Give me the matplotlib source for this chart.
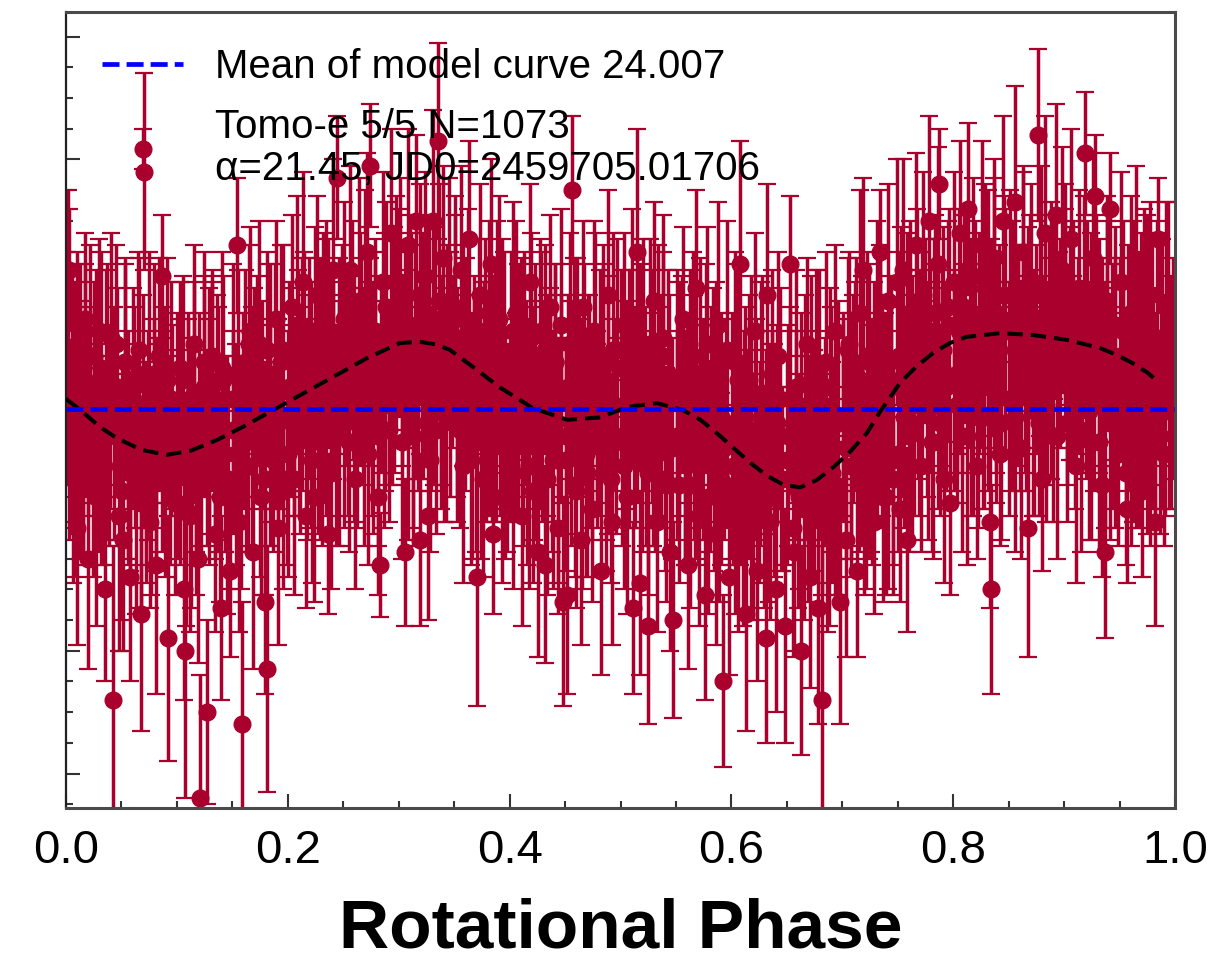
import numpy as np
import matplotlib.pyplot as plt
from matplotlib.ticker import MultipleLocator

plt.rcParams['font.family'] = ['Liberation Sans', 'DejaVu Sans']

# Phase-folded light curve (magnitudes).
# First block: the spread-out points and the visible outliers.
phase_1 = [
    0.002, 0.003, 0.006, 0.008, 0.010, 0.013, 0.015, 0.017, 0.020, 0.022, 0.025, 0.027, 0.030, 0.032, 0.035, 0.037, 0.040, 0.042, 0.045, 0.048,
    0.051, 0.053, 0.056, 0.058, 0.061, 0.063, 0.066, 0.068, 0.070, 0.072, 0.074, 0.076, 0.079, 0.081, 0.084, 0.087, 0.089, 0.092, 0.095, 0.098,
    0.101, 0.103, 0.106, 0.107, 0.110, 0.112, 0.115, 0.117, 0.119, 0.121, 0.124, 0.127, 0.129, 0.132, 0.134, 0.137, 0.140, 0.142, 0.145, 0.148,
    0.151, 0.154, 0.156, 0.159, 0.161, 0.164, 0.166, 0.169, 0.171, 0.174, 0.176, 0.179, 0.181, 0.184, 0.186, 0.189, 0.191, 0.194, 0.196, 0.199,
    0.201, 0.204, 0.206, 0.209, 0.211, 0.214, 0.216, 0.219, 0.221, 0.224, 0.226, 0.229, 0.231, 0.234, 0.236, 0.239, 0.241, 0.244, 0.246, 0.249,
    0.251, 0.254, 0.256, 0.259, 0.261, 0.264, 0.266, 0.269, 0.271, 0.274, 0.276, 0.279, 0.281, 0.283, 0.286, 0.288, 0.291, 0.293, 0.296, 0.298,
    0.301, 0.303, 0.306, 0.308, 0.311, 0.313, 0.316, 0.319, 0.321, 0.324, 0.326, 0.328, 0.331, 0.333, 0.335, 0.338, 0.340, 0.343, 0.345, 0.348,
    0.351, 0.353, 0.356, 0.358, 0.361, 0.363, 0.366, 0.368, 0.371, 0.373, 0.376, 0.378, 0.381, 0.383, 0.385, 0.388, 0.390, 0.393, 0.395, 0.398,
    0.401, 0.403, 0.406, 0.408, 0.411, 0.413, 0.416, 0.418, 0.421, 0.423, 0.426, 0.428, 0.432, 0.434, 0.436, 0.439, 0.441, 0.444, 0.446, 0.448,
    0.451, 0.452, 0.454, 0.456, 0.459, 0.461, 0.464, 0.466, 0.469, 0.471, 0.474, 0.476, 0.479, 0.482, 0.484, 0.487, 0.489, 0.492, 0.494, 0.497,
    0.501, 0.503, 0.506, 0.508, 0.511, 0.513, 0.515, 0.518, 0.520, 0.523, 0.525, 0.528, 0.530, 0.533, 0.535, 0.538, 0.540, 0.543, 0.545, 0.547,
    0.551, 0.553, 0.556, 0.558, 0.561, 0.563, 0.566, 0.568, 0.571, 0.573, 0.576, 0.578, 0.581, 0.583, 0.586, 0.588, 0.591, 0.592, 0.595, 0.598,
    0.601, 0.603, 0.606, 0.608, 0.611, 0.613, 0.616, 0.618, 0.621, 0.623, 0.626, 0.628, 0.631, 0.632, 0.635, 0.637, 0.640, 0.642, 0.645, 0.648,
    0.651, 0.653, 0.656, 0.658, 0.661, 0.663, 0.666, 0.668, 0.671, 0.673, 0.676, 0.678, 0.681, 0.682, 0.685, 0.688, 0.690, 0.693, 0.695, 0.698,
    0.701, 0.703, 0.706, 0.708, 0.711, 0.713, 0.716, 0.719, 0.721, 0.724, 0.726, 0.729, 0.731, 0.734, 0.736, 0.739, 0.741, 0.744, 0.746, 0.749,
    0.751, 0.752, 0.755, 0.758, 0.761, 0.763, 0.766, 0.768, 0.771, 0.773, 0.776, 0.778, 0.781, 0.783, 0.786, 0.787, 0.790, 0.792, 0.795, 0.797,
    0.801, 0.803, 0.806, 0.808, 0.811, 0.813, 0.816, 0.818, 0.821, 0.823, 0.826, 0.828, 0.831, 0.833, 0.834, 0.837, 0.839, 0.842, 0.845, 0.847,
    0.851, 0.853, 0.856, 0.858, 0.861, 0.863, 0.866, 0.867, 0.870, 0.873, 0.876, 0.878, 0.880, 0.883, 0.885, 0.888, 0.890, 0.893, 0.895, 0.898,
    0.901, 0.903, 0.906, 0.908, 0.911, 0.913, 0.916, 0.919, 0.921, 0.924, 0.926, 0.928, 0.931, 0.934, 0.937, 0.939, 0.941, 0.944, 0.946, 0.949,
    0.951, 0.953, 0.956, 0.957, 0.960, 0.962, 0.965, 0.967, 0.970, 0.972, 0.975, 0.977, 0.980, 0.982, 0.985, 0.987, 0.990, 0.992, 0.995, 0.998,
]
mag_1 = [
    23.84, 23.78, 24.12, 23.95, 24.20, 23.90, 24.06, 23.86, 24.25, 24.00, 23.92, 24.15, 23.88, 24.09, 24.30, 23.96, 24.03, 24.48, 23.90, 24.18,
    24.22, 23.93, 24.10, 24.28, 23.97, 24.14, 23.91, 24.34, 23.62, 24.11, 24.05, 24.19, 23.95, 24.26, 24.02, 23.79, 24.12, 24.38, 23.99, 24.16,
    24.08, 23.94, 24.30, 24.40, 24.00, 24.18, 23.90, 24.11, 24.25, 24.64, 23.97, 24.50, 24.06, 23.92, 24.21, 24.03, 24.33, 23.96, 24.13, 24.27,
    24.04, 23.74, 24.19, 24.52, 23.93, 24.10, 23.88, 24.24, 24.01, 23.90, 24.15, 24.32, 24.43, 23.95, 24.07, 23.86, 24.20, 24.02, 23.91, 24.12,
    23.97, 23.84, 24.12, 23.92, 24.05, 23.80, 24.18, 23.89, 24.00, 24.15, 23.82, 23.95, 24.09, 23.87, 24.21, 23.93, 23.78, 23.63, 24.03, 23.90,
    23.86, 24.02, 23.78, 23.95, 24.12, 23.83, 23.91, 24.06, 23.75, 23.61, 23.99, 23.88, 24.15, 24.26, 23.80, 23.93, 24.04, 23.72, 23.97, 23.85,
    23.80, 23.95, 24.24, 23.74, 23.88, 24.05, 23.70, 24.22, 23.92, 23.79, 24.18, 24.09, 23.70, 23.86, 23.57, 23.98, 23.76, 24.02, 23.83, 23.93,
    23.84, 24.00, 23.78, 24.10, 23.90, 23.73, 24.05, 23.95, 24.28, 23.82, 24.12, 23.88, 23.99, 23.77, 24.21, 24.03, 23.86, 24.15, 23.93, 24.07,
    23.92, 24.11, 23.85, 24.02, 24.18, 23.89, 24.06, 23.80, 24.14, 23.96, 24.24, 23.88, 24.26, 24.00, 23.84, 24.09, 23.93, 24.20, 23.87, 24.32,
    24.05, 24.31, 23.90, 23.65, 24.13, 23.95, 24.22, 23.84, 24.08, 23.98, 24.17, 23.88, 24.03, 24.27, 23.93, 24.11, 23.82, 24.19, 24.00, 23.91,
    24.06, 23.87, 24.15, 23.94, 24.33, 24.02, 23.75, 24.29, 23.90, 24.10, 24.36, 23.97, 23.83, 24.19, 24.04, 23.89, 24.12, 23.95, 24.24, 24.35,
    23.96, 24.13, 23.86, 24.07, 24.26, 23.92, 24.02, 23.81, 24.18, 24.00, 24.31, 23.90, 24.09, 23.97, 24.21, 23.87, 24.12, 24.45, 24.03, 24.28,
    24.10, 23.93, 24.22, 23.77, 24.05, 24.34, 23.96, 24.15, 23.88, 24.27, 24.08, 23.98, 24.38, 23.82, 24.19, 24.02, 24.30, 23.92, 24.12, 24.36,
    24.05, 23.77, 24.24, 23.97, 24.15, 24.40, 24.02, 23.90, 24.28, 24.11, 23.95, 24.33, 24.07, 24.48, 23.93, 24.20, 24.04, 23.88, 24.14, 24.32,
    24.02, 24.22, 23.90, 24.10, 23.96, 24.27, 23.85, 23.78, 24.13, 23.93, 24.05, 24.19, 23.87, 23.75, 24.00, 24.15, 23.83, 23.97, 24.09, 23.80,
    23.92, 24.17, 23.78, 24.22, 23.86, 24.03, 23.74, 23.95, 24.10, 23.82, 23.99, 23.70, 24.06, 23.88, 23.77, 23.64, 23.94, 24.12, 23.84, 24.16,
    23.80, 23.95, 23.72, 24.05, 23.86, 23.68, 23.98, 23.79, 24.10, 23.90, 23.74, 24.02, 23.84, 24.19, 24.30, 23.76, 23.93, 24.08, 23.70, 23.88,
    23.82, 23.99, 23.67, 23.90, 24.07, 23.75, 23.94, 24.20, 23.80, 24.01, 23.56, 23.87, 24.12, 23.72, 23.96, 23.84, 24.05, 23.69, 23.91, 23.78,
    23.85, 24.03, 23.73, 23.94, 24.10, 23.81, 23.97, 23.59, 23.88, 24.06, 23.76, 23.66, 23.92, 24.13, 24.24, 23.83, 23.68, 23.99, 23.87, 24.08,
    23.80, 23.96, 24.11, 24.17, 23.85, 24.02, 23.77, 23.93, 24.14, 23.88, 24.05, 23.82, 23.99, 24.19, 23.73, 23.91, 24.08, 23.84, 24.01, 23.94,
]
err_1 = [
    0.19, 0.10, 0.17, 0.15, 0.19, 0.13, 0.20, 0.14, 0.18, 0.16, 0.12, 0.21, 0.15, 0.17, 0.15, 0.19, 0.14, 0.25, 0.16, 0.22,
    0.18, 0.16, 0.15, 0.17, 0.13, 0.20, 0.15, 0.19, 0.16, 0.18, 0.17, 0.14, 0.18, 0.21, 0.12, 0.10, 0.16, 0.20, 0.19, 0.15,
    0.17, 0.14, 0.18, 0.24, 0.15, 0.19, 0.16, 0.13, 0.17, 0.20, 0.18, 0.15, 0.20, 0.14, 0.16, 0.19, 0.15, 0.17, 0.21, 0.14,
    0.16, 0.11, 0.18, 0.20, 0.15, 0.13, 0.17, 0.19, 0.14, 0.20, 0.16, 0.15, 0.20, 0.18, 0.12, 0.16, 0.19, 0.15, 0.17, 0.14,
    0.17, 0.15, 0.19, 0.14, 0.16, 0.18, 0.15, 0.13, 0.20, 0.17, 0.16, 0.19, 0.14, 0.17, 0.13, 0.15, 0.18, 0.10, 0.20, 0.16,
    0.19, 0.16, 0.17, 0.14, 0.18, 0.20, 0.15, 0.17, 0.16, 0.10, 0.19, 0.13, 0.16, 0.085, 0.18, 0.21, 0.15, 0.17, 0.14, 0.19,
    0.17, 0.15, 0.12, 0.19, 0.16, 0.18, 0.14, 0.14, 0.20, 0.17, 0.17, 0.15, 0.18, 0.16, 0.16, 0.19, 0.15, 0.17, 0.20, 0.14,
    0.18, 0.15, 0.17, 0.19, 0.14, 0.16, 0.20, 0.13, 0.21, 0.18, 0.16, 0.15, 0.19, 0.17, 0.13, 0.16, 0.20, 0.14, 0.18, 0.17,
    0.17, 0.19, 0.15, 0.16, 0.18, 0.14, 0.20, 0.16, 0.15, 0.19, 0.17, 0.13, 0.16, 0.18, 0.15, 0.21, 0.16, 0.14, 0.19, 0.17,
    0.16, 0.16, 0.18, 0.12, 0.15, 0.19, 0.17, 0.14, 0.20, 0.16, 0.15, 0.18, 0.13, 0.17, 0.19, 0.16, 0.17, 0.20, 0.14, 0.18,
    0.17, 0.15, 0.19, 0.16, 0.14, 0.18, 0.20, 0.15, 0.17, 0.13, 0.16, 0.19, 0.16, 0.18, 0.14, 0.20, 0.15, 0.17, 0.16, 0.16,
    0.18, 0.16, 0.15, 0.19, 0.17, 0.14, 0.20, 0.16, 0.18, 0.13, 0.17, 0.19, 0.15, 0.16, 0.18, 0.20, 0.14, 0.14, 0.17, 0.16,
    0.16, 0.18, 0.15, 0.20, 0.17, 0.19, 0.14, 0.20, 0.16, 0.18, 0.15, 0.19, 0.17, 0.18, 0.16, 0.14, 0.20, 0.17, 0.15, 0.19,
    0.18, 0.11, 0.16, 0.19, 0.15, 0.17, 0.20, 0.14, 0.18, 0.16, 0.17, 0.19, 0.15, 0.25, 0.18, 0.16, 0.20, 0.14, 0.17, 0.20,
    0.17, 0.19, 0.15, 0.18, 0.16, 0.14, 0.20, 0.15, 0.17, 0.16, 0.19, 0.15, 0.17, 0.10, 0.18, 0.16, 0.19, 0.14, 0.17, 0.20,
    0.17, 0.15, 0.18, 0.15, 0.16, 0.19, 0.15, 0.17, 0.14, 0.20, 0.16, 0.17, 0.18, 0.15, 0.19, 0.09, 0.16, 0.17, 0.14, 0.15,
    0.18, 0.16, 0.15, 0.19, 0.17, 0.14, 0.20, 0.16, 0.15, 0.18, 0.17, 0.15, 0.19, 0.14, 0.17, 0.16, 0.18, 0.15, 0.17, 0.20,
    0.17, 0.15, 0.19, 0.16, 0.18, 0.14, 0.20, 0.21, 0.16, 0.17, 0.14, 0.18, 0.15, 0.19, 0.16, 0.17, 0.14, 0.18, 0.16, 0.20,
    0.17, 0.16, 0.18, 0.15, 0.19, 0.16, 0.14, 0.10, 0.18, 0.16, 0.17, 0.10, 0.19, 0.15, 0.14, 0.17, 0.09, 0.18, 0.16, 0.15,
    0.18, 0.16, 0.15, 0.12, 0.19, 0.17, 0.16, 0.18, 0.14, 0.20, 0.16, 0.15, 0.18, 0.17, 0.10, 0.19, 0.15, 0.17, 0.16, 0.18,
]

# Second block: the dense core of the band around the mean.
phase_2 = [
    0.0005, 0.0030, 0.0055, 0.0080, 0.0100, 0.0125, 0.0150, 0.0175, 0.0195, 0.0220, 0.0245, 0.0270, 0.0290, 0.0315, 0.0340, 0.0365, 0.0385, 0.0410, 0.0435, 0.0460,
    0.0505, 0.0530, 0.0555, 0.0580, 0.0600, 0.0625, 0.0650, 0.0675, 0.0695, 0.0720, 0.0745, 0.0770, 0.0790, 0.0815, 0.0840, 0.0865, 0.0885, 0.0910, 0.0935, 0.0960,
    0.1005, 0.1030, 0.1055, 0.1080, 0.1100, 0.1125, 0.1150, 0.1175, 0.1195, 0.1220, 0.1245, 0.1270, 0.1290, 0.1315, 0.1340, 0.1365, 0.1385, 0.1410, 0.1435, 0.1460,
    0.1505, 0.1530, 0.1555, 0.1580, 0.1600, 0.1625, 0.1650, 0.1675, 0.1695, 0.1720, 0.1745, 0.1770, 0.1790, 0.1815, 0.1840, 0.1865, 0.1885, 0.1910, 0.1935, 0.1960,
    0.2005, 0.2030, 0.2055, 0.2080, 0.2100, 0.2125, 0.2150, 0.2175, 0.2195, 0.2220, 0.2245, 0.2270, 0.2290, 0.2315, 0.2340, 0.2365, 0.2385, 0.2410, 0.2435, 0.2460,
    0.2505, 0.2530, 0.2555, 0.2580, 0.2600, 0.2625, 0.2650, 0.2675, 0.2695, 0.2720, 0.2745, 0.2770, 0.2790, 0.2815, 0.2840, 0.2865, 0.2885, 0.2910, 0.2935, 0.2960,
    0.3005, 0.3030, 0.3055, 0.3080, 0.3100, 0.3125, 0.3150, 0.3175, 0.3195, 0.3220, 0.3245, 0.3270, 0.3290, 0.3315, 0.3340, 0.3365, 0.3385, 0.3410, 0.3435, 0.3460,
    0.3505, 0.3530, 0.3555, 0.3580, 0.3600, 0.3625, 0.3650, 0.3675, 0.3695, 0.3720, 0.3745, 0.3770, 0.3790, 0.3815, 0.3840, 0.3865, 0.3885, 0.3910, 0.3935, 0.3960,
    0.4005, 0.4030, 0.4055, 0.4080, 0.4100, 0.4125, 0.4150, 0.4175, 0.4195, 0.4220, 0.4245, 0.4270, 0.4290, 0.4315, 0.4340, 0.4365, 0.4385, 0.4410, 0.4435, 0.4460,
    0.4505, 0.4530, 0.4555, 0.4580, 0.4600, 0.4625, 0.4650, 0.4675, 0.4695, 0.4720, 0.4745, 0.4770, 0.4790, 0.4815, 0.4840, 0.4865, 0.4885, 0.4910, 0.4935, 0.4960,
    0.5005, 0.5030, 0.5055, 0.5080, 0.5100, 0.5125, 0.5150, 0.5175, 0.5195, 0.5220, 0.5245, 0.5270, 0.5290, 0.5315, 0.5340, 0.5365, 0.5385, 0.5410, 0.5435, 0.5460,
    0.5505, 0.5530, 0.5555, 0.5580, 0.5600, 0.5625, 0.5650, 0.5675, 0.5695, 0.5720, 0.5745, 0.5770, 0.5790, 0.5815, 0.5840, 0.5865, 0.5885, 0.5910, 0.5935, 0.5960,
    0.6005, 0.6030, 0.6055, 0.6080, 0.6100, 0.6125, 0.6150, 0.6175, 0.6195, 0.6220, 0.6245, 0.6270, 0.6290, 0.6315, 0.6340, 0.6365, 0.6385, 0.6410, 0.6435, 0.6460,
    0.6505, 0.6530, 0.6555, 0.6580, 0.6600, 0.6625, 0.6650, 0.6675, 0.6695, 0.6720, 0.6745, 0.6770, 0.6790, 0.6815, 0.6840, 0.6865, 0.6885, 0.6910, 0.6935, 0.6960,
    0.7005, 0.7030, 0.7055, 0.7080, 0.7100, 0.7125, 0.7150, 0.7175, 0.7195, 0.7220, 0.7245, 0.7270, 0.7290, 0.7315, 0.7340, 0.7365, 0.7385, 0.7410, 0.7435, 0.7460,
    0.7505, 0.7530, 0.7555, 0.7580, 0.7600, 0.7625, 0.7650, 0.7675, 0.7695, 0.7720, 0.7745, 0.7770, 0.7790, 0.7815, 0.7840, 0.7865, 0.7885, 0.7910, 0.7935, 0.7960,
    0.8005, 0.8030, 0.8055, 0.8080, 0.8100, 0.8125, 0.8150, 0.8175, 0.8195, 0.8220, 0.8245, 0.8270, 0.8290, 0.8315, 0.8340, 0.8365, 0.8385, 0.8410, 0.8435, 0.8460,
    0.8505, 0.8530, 0.8555, 0.8580, 0.8600, 0.8625, 0.8650, 0.8675, 0.8695, 0.8720, 0.8745, 0.8770, 0.8790, 0.8815, 0.8840, 0.8865, 0.8885, 0.8910, 0.8935, 0.8960,
    0.9005, 0.9030, 0.9055, 0.9080, 0.9100, 0.9125, 0.9150, 0.9175, 0.9195, 0.9220, 0.9245, 0.9270, 0.9290, 0.9315, 0.9340, 0.9365, 0.9385, 0.9410, 0.9435, 0.9460,
    0.9505, 0.9530, 0.9555, 0.9580, 0.9600, 0.9625, 0.9650, 0.9675, 0.9695, 0.9720, 0.9745, 0.9770, 0.9790, 0.9815, 0.9840, 0.9865, 0.9885, 0.9910, 0.9935, 0.9960,
]
mag_2 = [
    23.93, 24.06, 23.99, 24.11, 23.90, 24.04, 24.08, 23.96, 24.02, 23.92, 24.13, 23.98, 24.07, 23.94, 24.10, 24.00, 24.05, 23.89, 24.03, 23.97,
    24.14, 23.93, 24.07, 24.11, 23.99, 24.05, 23.95, 24.16, 24.01, 24.10, 23.97, 24.13, 24.03, 24.08, 23.92, 24.06, 24.00, 23.96, 24.09, 24.02,
    24.00, 24.06, 23.96, 24.17, 24.02, 24.11, 23.98, 24.14, 24.04, 24.09, 23.93, 24.07, 24.01, 23.97, 24.10, 24.03, 24.15, 23.94, 24.08, 24.12,
    23.99, 24.08, 23.95, 24.11, 24.01, 24.06, 23.90, 24.04, 23.98, 23.94, 24.07, 24.00, 24.12, 23.91, 24.05, 24.09, 23.97, 24.03, 23.93, 24.14,
    24.08, 23.98, 24.03, 23.87, 24.01, 23.95, 23.91, 24.04, 23.97, 24.09, 23.88, 24.02, 24.06, 23.94, 24.00, 23.90, 24.11, 23.96, 24.05, 23.92,
    24.01, 23.94, 24.06, 23.85, 23.99, 24.03, 23.91, 23.97, 23.87, 24.08, 23.93, 24.02, 23.89, 24.05, 23.95, 24.00, 23.84, 23.98, 23.92, 23.88,
    23.85, 24.06, 23.91, 24.00, 23.87, 24.03, 23.93, 23.98, 23.82, 23.96, 23.90, 23.86, 23.99, 23.92, 24.04, 23.83, 23.97, 24.01, 23.89, 23.95,
    23.86, 24.00, 24.04, 23.92, 23.98, 23.88, 24.09, 23.94, 24.03, 23.90, 24.06, 23.96, 24.01, 23.85, 23.99, 23.93, 23.89, 24.02, 23.95, 24.07,
    24.04, 23.88, 24.02, 23.96, 23.92, 24.05, 23.98, 24.10, 23.89, 24.03, 24.07, 23.95, 24.01, 23.91, 24.12, 23.97, 24.06, 23.93, 24.09, 23.99,
    24.09, 23.97, 24.03, 23.93, 24.14, 23.99, 24.08, 23.95, 24.11, 24.01, 24.06, 23.90, 24.04, 23.98, 23.94, 24.07, 24.00, 24.12, 23.91, 24.05,
    23.94, 24.10, 24.00, 24.05, 23.89, 24.03, 23.97, 23.93, 24.06, 23.99, 24.11, 23.90, 24.04, 24.08, 23.96, 24.02, 23.92, 24.13, 23.98, 24.07,
    24.05, 23.99, 23.95, 24.08, 24.01, 24.13, 23.92, 24.06, 24.10, 23.98, 24.04, 23.94, 24.15, 24.00, 24.09, 23.96, 24.12, 24.02, 24.07, 23.91,
    24.05, 24.17, 23.96, 24.10, 24.14, 24.02, 24.08, 23.98, 24.19, 24.04, 24.13, 24.00, 24.16, 24.06, 24.11, 23.95, 24.09, 24.03, 23.99, 24.12,
    24.09, 23.99, 24.20, 24.05, 24.14, 24.01, 24.17, 24.07, 24.12, 23.96, 24.10, 24.04, 24.00, 24.13, 24.06, 24.18, 23.97, 24.11, 24.15, 24.03,
    24.02, 24.07, 23.91, 24.05, 23.99, 23.95, 24.08, 24.01, 24.13, 23.92, 24.06, 24.10, 23.98, 24.04, 23.94, 24.15, 24.00, 24.09, 23.96, 24.12,
    24.08, 23.93, 24.02, 23.89, 24.05, 23.95, 24.00, 23.84, 23.98, 23.92, 23.88, 24.01, 23.94, 24.06, 23.85, 23.99, 24.03, 23.91, 23.97, 23.87,
    23.96, 24.00, 23.88, 23.94, 23.84, 24.05, 23.90, 23.99, 23.86, 24.02, 23.92, 23.97, 23.81, 23.95, 23.89, 23.85, 23.98, 23.91, 24.03, 23.82,
    23.99, 23.86, 24.02, 23.92, 23.97, 23.81, 23.95, 23.89, 23.85, 23.98, 23.91, 24.03, 23.82, 23.96, 24.00, 23.88, 23.94, 23.84, 24.05, 23.90,
    23.82, 23.96, 23.90, 23.86, 23.99, 23.92, 24.04, 23.83, 23.97, 24.01, 23.89, 23.95, 23.85, 24.06, 23.91, 24.00, 23.87, 24.03, 23.93, 23.98,
    23.92, 23.88, 24.01, 23.94, 24.06, 23.85, 23.99, 24.03, 23.91, 23.97, 23.87, 24.08, 23.93, 24.02, 23.89, 24.05, 23.95, 24.00, 23.84, 23.98,
]
err_2 = [
    0.18, 0.16, 0.20, 0.17, 0.15, 0.21, 0.17, 0.19, 0.16, 0.18, 0.15, 0.20, 0.17, 0.19, 0.16, 0.22, 0.18, 0.17, 0.19, 0.16,
    0.21, 0.17, 0.19, 0.16, 0.18, 0.15, 0.20, 0.17, 0.19, 0.16, 0.22, 0.18, 0.17, 0.19, 0.16, 0.18, 0.16, 0.20, 0.17, 0.15,
    0.15, 0.20, 0.17, 0.19, 0.16, 0.22, 0.18, 0.17, 0.19, 0.16, 0.18, 0.16, 0.20, 0.17, 0.15, 0.21, 0.17, 0.19, 0.16, 0.18,
    0.22, 0.18, 0.17, 0.19, 0.16, 0.18, 0.16, 0.20, 0.17, 0.15, 0.21, 0.17, 0.19, 0.16, 0.18, 0.15, 0.20, 0.17, 0.19, 0.16,
    0.20, 0.17, 0.15, 0.21, 0.17, 0.19, 0.16, 0.18, 0.15, 0.20, 0.17, 0.19, 0.16, 0.22, 0.18, 0.17, 0.19, 0.16, 0.18, 0.16,
    0.19, 0.16, 0.18, 0.15, 0.20, 0.17, 0.19, 0.16, 0.22, 0.18, 0.17, 0.19, 0.16, 0.18, 0.16, 0.20, 0.17, 0.15, 0.21, 0.17,
    0.17, 0.19, 0.16, 0.22, 0.18, 0.17, 0.19, 0.16, 0.18, 0.16, 0.20, 0.17, 0.15, 0.21, 0.17, 0.19, 0.16, 0.18, 0.15, 0.20,
    0.17, 0.19, 0.16, 0.18, 0.16, 0.20, 0.17, 0.15, 0.21, 0.17, 0.19, 0.16, 0.18, 0.15, 0.20, 0.17, 0.19, 0.16, 0.22, 0.18,
    0.15, 0.21, 0.17, 0.19, 0.16, 0.18, 0.15, 0.20, 0.17, 0.19, 0.16, 0.22, 0.18, 0.17, 0.19, 0.16, 0.18, 0.16, 0.20, 0.17,
    0.18, 0.15, 0.20, 0.17, 0.19, 0.16, 0.22, 0.18, 0.17, 0.19, 0.16, 0.18, 0.16, 0.20, 0.17, 0.15, 0.21, 0.17, 0.19, 0.16,
    0.16, 0.20, 0.17, 0.15, 0.21, 0.17, 0.19, 0.16, 0.18, 0.15, 0.20, 0.17, 0.19, 0.16, 0.22, 0.18, 0.17, 0.19, 0.16, 0.18,
    0.17, 0.19, 0.16, 0.18, 0.15, 0.20, 0.17, 0.19, 0.16, 0.22, 0.18, 0.17, 0.19, 0.16, 0.18, 0.16, 0.20, 0.17, 0.15, 0.21,
    0.20, 0.17, 0.19, 0.16, 0.22, 0.18, 0.17, 0.19, 0.16, 0.18, 0.16, 0.20, 0.17, 0.15, 0.21, 0.17, 0.19, 0.16, 0.18, 0.15,
    0.17, 0.15, 0.21, 0.17, 0.19, 0.16, 0.18, 0.15, 0.20, 0.17, 0.19, 0.16, 0.22, 0.18, 0.17, 0.19, 0.16, 0.18, 0.16, 0.20,
    0.16, 0.18, 0.15, 0.20, 0.17, 0.19, 0.16, 0.22, 0.18, 0.17, 0.19, 0.16, 0.18, 0.16, 0.20, 0.17, 0.15, 0.21, 0.17, 0.19,
    0.16, 0.22, 0.18, 0.17, 0.19, 0.16, 0.18, 0.16, 0.20, 0.17, 0.15, 0.21, 0.17, 0.19, 0.16, 0.18, 0.15, 0.20, 0.17, 0.19,
    0.18, 0.16, 0.20, 0.17, 0.15, 0.21, 0.17, 0.19, 0.16, 0.18, 0.15, 0.20, 0.17, 0.19, 0.16, 0.22, 0.18, 0.17, 0.19, 0.16,
    0.19, 0.16, 0.22, 0.18, 0.17, 0.19, 0.16, 0.18, 0.16, 0.20, 0.17, 0.15, 0.21, 0.17, 0.19, 0.16, 0.18, 0.15, 0.20, 0.17,
    0.18, 0.17, 0.19, 0.16, 0.18, 0.16, 0.20, 0.17, 0.15, 0.21, 0.17, 0.19, 0.16, 0.18, 0.15, 0.20, 0.17, 0.19, 0.16, 0.22,
    0.16, 0.18, 0.16, 0.20, 0.17, 0.15, 0.21, 0.17, 0.19, 0.16, 0.18, 0.15, 0.20, 0.17, 0.19, 0.16, 0.22, 0.18, 0.17, 0.19,
]

# Fourier model curve
model_phase = [0.000, 0.015, 0.030, 0.046, 0.068, 0.091, 0.113, 0.136, 0.160, 0.187,
               0.214, 0.241, 0.271, 0.301, 0.319, 0.333, 0.346, 0.367, 0.391, 0.421,
               0.452, 0.482, 0.506, 0.533, 0.556, 0.572, 0.587, 0.602, 0.617, 0.632,
               0.647, 0.662, 0.677, 0.692, 0.707, 0.722, 0.734, 0.752, 0.767, 0.782,
               0.797, 0.812, 0.842, 0.872, 0.903, 0.932, 0.947, 0.962, 0.975, 0.986]
model_mag = [23.990, 24.011, 24.035, 24.054, 24.073, 24.081, 24.074, 24.057, 24.035, 24.008,
             23.981, 23.954, 23.924, 23.899, 23.897, 23.901, 23.910, 23.938, 23.971, 24.005,
             24.024, 24.020, 24.003, 23.997, 24.008, 24.024, 24.046, 24.070, 24.094, 24.115,
             24.130, 24.134, 24.122, 24.101, 24.076, 24.046, 24.011, 23.964, 23.937, 23.915,
             23.899, 23.889, 23.883, 23.886, 23.894, 23.907, 23.918, 23.932, 23.947, 23.964]
mean_model = 24.007
n_obs = 1073

red = '#aa002d'

phase = np.concatenate([phase_1, phase_2])
mag = np.concatenate([mag_1, mag_2])
mag_err = np.concatenate([err_1, err_2])

fig = plt.figure(figsize=(12.09, 9.65), dpi=100)
ax = fig.add_axes([0.0546, 0.1627, 0.9173, 0.8249])

eb = ax.errorbar(phase, mag, yerr=mag_err, fmt='o', color=red, ms=12,
                 elinewidth=2.5, capsize=6.5, capthick=1.6, zorder=2)
ax.plot(model_phase, model_mag, color='black', lw=2.9, ls=(0, (3.8, 2.0)), zorder=3)
mean_line = ax.axhline(mean_model, color='#0000ff', lw=3.4, ls=(0, (3.6, 1.5)), zorder=4)

ax.set_xlim(0, 1)
ax.set_ylim(24.656, 23.36)

ax.xaxis.set_major_locator(MultipleLocator(0.2))
ax.xaxis.set_minor_locator(MultipleLocator(0.05))
ax.yaxis.set_major_locator(MultipleLocator(0.2))
ax.yaxis.set_minor_locator(MultipleLocator(0.05))
ax.tick_params(which='both', direction='in', top=False, right=False,
               labelleft=False, width=1.5, color='#333333')
ax.tick_params(which='major', length=10, labelsize=34, pad=15)
ax.tick_params(which='minor', length=5)
ax.set_xticks([0, 0.2, 0.4, 0.6, 0.8, 1.0])
ax.set_xticklabels(['0.0', '0.2', '0.4', '0.6', '0.8', '1.0'])

for s in ax.spines.values():
    s.set_color('#4a4a4a')
    s.set_linewidth(2.2)
ax.spines['left'].set_color('#222222')
ax.spines['left'].set_linewidth(1.6)

ax.set_xlabel('Rotational Phase', fontsize=50, fontweight='bold', labelpad=18)

leg = ax.legend([mean_line, eb],
                ['Mean of model curve %.3f' % mean_model,
                 'Tomo-e 5/5 N=%d\nα=21.45, JD0=2459705.01706' % n_obs],
                loc='upper left', frameon=False, fontsize=29, labelspacing=0.55)
leg.get_texts()[1].set_linespacing(1.12)

fig.savefig('out.png', dpi=100)
